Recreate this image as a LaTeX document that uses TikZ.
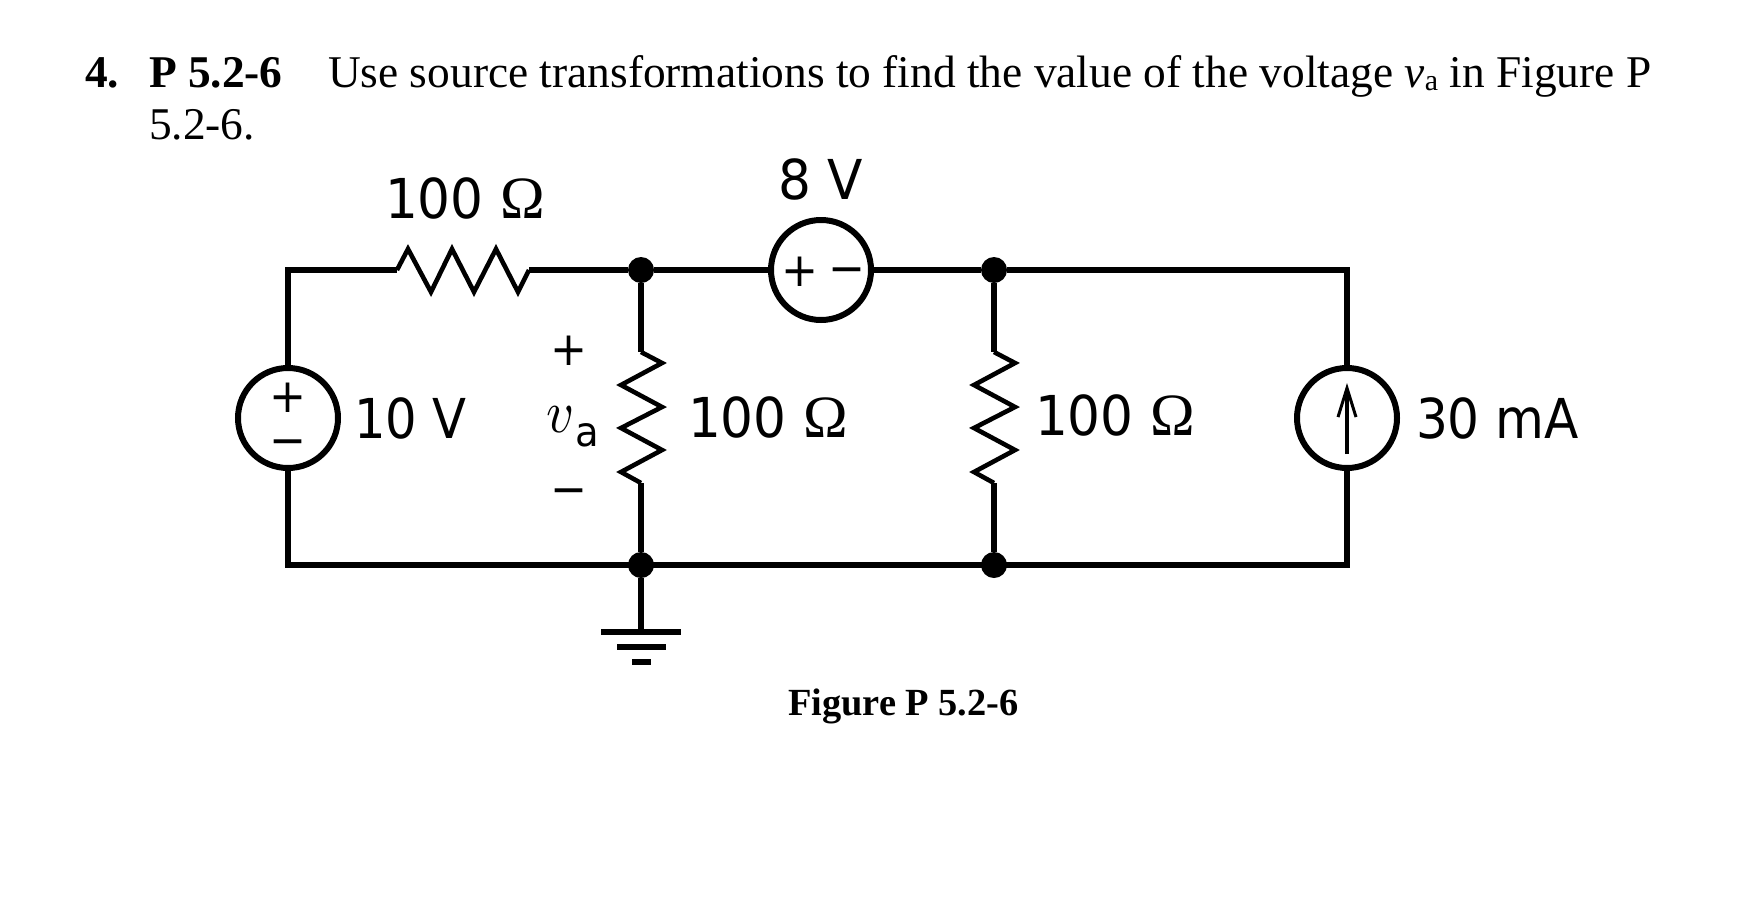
\documentclass[tikz,border=0pt]{standalone}
\usepackage{fontspec}
\setmainfont{Liberation Serif}
\newfontfamily\lblfont[FakeStretch=0.94]{DejaVu Sans}
\usetikzlibrary{arrows.meta}
\tikzset{
  x=1pt,y=-1pt,
  wire/.style={line width=6.4pt,line cap=butt,line join=miter},
  resist/.style={line width=4.6pt,line join=miter},
  src/.style={circle,draw,line width=6pt,minimum size=100pt,inner sep=0pt},
  dot/.style={circle,fill=black,minimum size=26pt,inner sep=0pt},
  gbar/.style={line width=6pt},
  txt/.style={anchor=base west,inner sep=0pt,outer sep=0pt},
  para/.style={txt,font=\fontsize{45.4}{54}\selectfont},
  lbl/.style={txt,font=\lblfont\fontsize{55}{66}\selectfont},
  sign/.style={anchor=center,inner sep=0pt,font=\lblfont\fontsize{47}{50}\selectfont},
}
\newcommand{\ohm}{{\fontsize{60}{66}\selectfont\rmfamily Ω}}
\newcommand{\sgn}[1]{\vphantom{+}#1}
\begin{document}
\begin{tikzpicture}
\useasboundingbox (0,0) rectangle (1742,916);
\fill[white] (0,0) rectangle (1742,916);
% text
\node[para] (t1) at (85,87) {\textbf{4.}};
\node[para] (t2) at (149,87) {\textbf{P 5.2-6}};
\node[para] (t3) at (328,87) {Use source transformations to find the value of the voltage \textit{v}\raisebox{-3pt}{\fontsize{30}{30}\selectfont a} in Figure P};
\node[para] (t4) at (149,139) {5.2-6.};
\node[txt,font=\fontsize{38.4}{46}\selectfont\bfseries] (fig) at (788,715) {Figure P 5.2-6};
% junctions and sources
\node[dot] (j1) at (641,270) {};
\node[dot] (j2) at (994,270) {};
\node[dot] (j3) at (641,565) {};
\node[dot] (j4) at (994,565) {};
\node[src] (vs) at (288,418) {};
\node[src] (v8) at (821,270) {};
\node[src] (is) at (1347,418) {};
\coordinate (tl) at (288,270);
\coordinate (tr) at (1347,270);
\coordinate (bl) at (288,565);
\coordinate (br) at (1347,565);
% horizontal resistor
\coordinate (ra) at (397,270);
\coordinate (rb) at (529,270);
\draw[resist] (ra) -- (408,249) -- (431,292) -- (452,249) -- (474,292) -- (496,249) -- (518,292) -- (rb);
% vertical resistors
\coordinate (r2a) at (641,352);
\coordinate (r2b) at (641,483);
\coordinate (r3a) at (994,352);
\coordinate (r3b) at (994,483);
\draw[resist] (r2a) -- (662,363) -- (621,385) -- (662,407) -- (621,428) -- (662,450) -- (621,472) -- (r2b);
\draw[resist] (r3a) -- (1015,363) -- (974,385) -- (1015,407) -- (974,428) -- (1015,450) -- (974,472) -- (r3b);
% wires
\draw[wire] (vs.north) -- (tl) -- (ra);
\draw[wire] (rb) -- (j1) -- (v8.west);
\draw[wire] (v8.east) -- (j2) -- (tr) -- (is.north);
\draw[wire] (vs.south) -- (bl) -- (br) -- (is.south);
\draw[wire] (j1) -- (r2a);
\draw[wire] (r2b) -- (j3);
\draw[wire] (j2) -- (r3a);
\draw[wire] (r3b) -- (j4);
% ground
\coordinate (g1) at (641,632);
\draw[wire] (j3) -- (g1);
\coordinate (g1l) at (601,632); \coordinate (g1r) at (681,632);
\coordinate (g2l) at (617,647); \coordinate (g2r) at (666,647);
\coordinate (g3l) at (632,662); \coordinate (g3r) at (651,662);
\draw[gbar] (g1l) -- (g1r);
\draw[gbar] (g2l) -- (g2r);
\draw[gbar] (g3l) -- (g3r);
% current arrow
\coordinate (ia) at (1347,454);
\coordinate (ib) at (1347,383);
\draw[line width=4pt,-{Straight Barb[length=29pt,width=18pt,line width=3pt]}] (ia) -- (ib);
% labels
\node[lbl] (l1) at (385,218) {100 \ohm};
\node[lbl] (l2) at (778,199) {8 V};
\node[lbl,xscale=.96] (l3) at (354,438) {10 V};
\node[lbl] (l4) at (688,437) {100 \ohm};
\node[lbl] (l5) at (1035,435) {100 \ohm};
\node[lbl,xscale=.97] (l6) at (1416,438) {30 mA};
\node[txt,scale=6,xscale=.9] (va) at (546,432) {$v$};
\node[txt,font=\lblfont\fontsize{41}{50}\selectfont] (vb) at (575,446) {a};
\node[sign] (p0) at (569,351) {\sgn{+}};
\node[sign] (m0) at (569,491) {\sgn{−}};
\node[sign] (p1) at (288,398) {\sgn{+}};
\node[sign] (m1) at (288,442) {\sgn{−}};
\node[sign] (p2) at (800,272) {\sgn{+}};
\node[sign] (m2) at (847,270) {\sgn{−}};
\end{tikzpicture}
\end{document}
